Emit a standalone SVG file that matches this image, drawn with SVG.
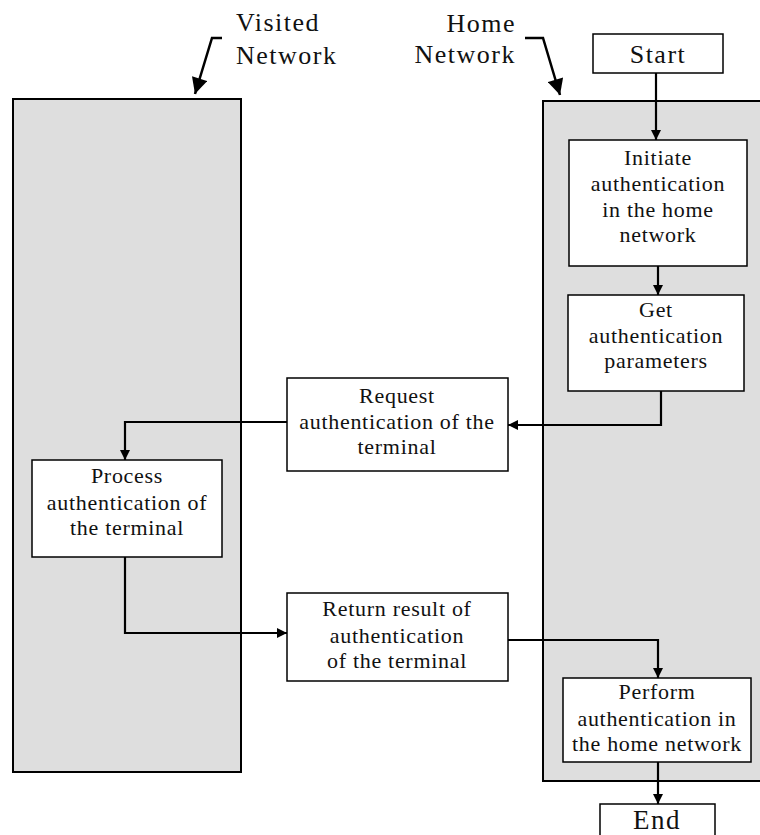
<svg xmlns="http://www.w3.org/2000/svg" width="760" height="835" viewBox="0 0 760 835">
  <style>
    .panel { fill: #dedede; stroke: #000; stroke-width: 2; }
    .box { fill: #fff; stroke: #000; stroke-width: 1.5; }
    .txt { font-family: "Liberation Serif", "Times New Roman", serif; font-size: 22px; letter-spacing: 0.7px; fill: #111; text-anchor: middle; }
    .big { font-family: "Liberation Serif", "Times New Roman", serif; font-size: 26px; letter-spacing: 1.5px; fill: #111; }
    .conn { fill: none; stroke: #000; stroke-width: 2.2; }
    .pointer { fill: none; stroke: #000; stroke-width: 2.5; }
  </style>
  <defs>
    <marker id="arrow" viewBox="0 0 10 10" refX="10" refY="5" markerWidth="10" markerHeight="10" markerUnits="userSpaceOnUse" orient="auto">
      <path d="M0,0 L10,5 L0,10 Z" fill="#000"/>
    </marker>
    <marker id="bigarrow" viewBox="0 0 10 10" refX="10" refY="5" markerWidth="18" markerHeight="16" markerUnits="userSpaceOnUse" orient="auto">
      <path d="M0,0 L10,5 L0,10 Z" fill="#000"/>
    </marker>
  </defs>

  <!-- network areas -->
  <g id="visited-network">
    <rect class="panel" x="13" y="99" width="228" height="673"/>
    <text class="big" x="236" y="31">Visited</text>
    <text class="big" x="236" y="64">Network</text>
    <polyline class="pointer" points="222,38 212,38 195,94" marker-end="url(#bigarrow)"/>
  </g>
  <g id="home-network">
    <rect class="panel" x="543" y="101" width="230" height="680"/>
    <text class="big" x="516" y="32" text-anchor="end">Home</text>
    <text class="big" x="516" y="63" text-anchor="end">Network</text>
    <polyline class="pointer" points="525,38 543,38 560,95" marker-end="url(#bigarrow)"/>
  </g>

  <!-- connectors -->
  <g id="connectors">
    <line class="conn" x1="656" y1="73" x2="656" y2="140" marker-end="url(#arrow)"/>
    <line class="conn" x1="658" y1="266" x2="658" y2="295" marker-end="url(#arrow)"/>
    <polyline class="conn" points="661,391 661,425 508,425" marker-end="url(#arrow)"/>
    <polyline class="conn" points="287,422 125,422 125,460" marker-end="url(#arrow)"/>
    <polyline class="conn" points="125,557 125,633 287,633" marker-end="url(#arrow)"/>
    <polyline class="conn" points="508,640 658,640 658,678" marker-end="url(#arrow)"/>
    <line class="conn" x1="658" y1="762" x2="658" y2="804" marker-end="url(#arrow)"/>
  </g>

  <!-- nodes -->
  <g id="start">
    <rect class="box" x="593" y="34" width="130" height="39"/>
    <text class="big" x="658" y="63" text-anchor="middle">Start</text>
  </g>
  <g id="initiate">
    <rect class="box" x="569" y="140" width="178" height="126"/>
    <text class="txt" x="658" y="165">Initiate</text>
    <text class="txt" x="658" y="191">authentication</text>
    <text class="txt" x="658" y="217">in the home</text>
    <text class="txt" x="658" y="242">network</text>
  </g>
  <g id="get-params">
    <rect class="box" x="568" y="295" width="176" height="96"/>
    <text class="txt" x="656" y="317">Get</text>
    <text class="txt" x="656" y="343">authentication</text>
    <text class="txt" x="656" y="368">parameters</text>
  </g>
  <g id="request">
    <rect class="box" x="287" y="378" width="221" height="93"/>
    <text class="txt" x="397" y="403">Request</text>
    <text class="txt" x="397" y="429">authentication of the</text>
    <text class="txt" x="397" y="454">terminal</text>
  </g>
  <g id="process">
    <rect class="box" x="32" y="460" width="190" height="97"/>
    <text class="txt" x="127" y="483">Process</text>
    <text class="txt" x="127" y="510">authentication of</text>
    <text class="txt" x="127" y="535">the terminal</text>
  </g>
  <g id="return-result">
    <rect class="box" x="287" y="593" width="221" height="88"/>
    <text class="txt" x="397" y="616">Return result of</text>
    <text class="txt" x="397" y="643">authentication</text>
    <text class="txt" x="397" y="668">of the terminal</text>
  </g>
  <g id="perform">
    <rect class="box" x="563" y="678" width="188" height="84"/>
    <text class="txt" x="657" y="699">Perform</text>
    <text class="txt" x="657" y="726">authentication in</text>
    <text class="txt" x="657" y="751">the home network</text>
  </g>
  <g id="end">
    <rect class="box" x="600" y="804" width="115" height="40"/>
    <text class="big" x="657" y="829" text-anchor="middle" style="font-size:27px">End</text>
  </g>
</svg>
